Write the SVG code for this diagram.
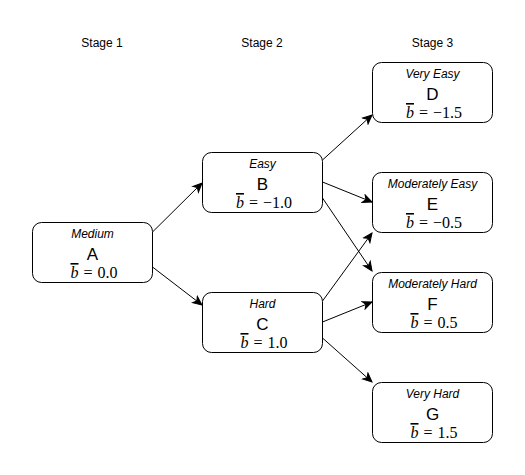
<svg xmlns="http://www.w3.org/2000/svg" width="525" height="475" viewBox="0 0 525 475">
<style>
.box{fill:#fff;stroke:#000;stroke-width:1}
.lbl{font-family:"Liberation Sans",Arial,sans-serif;font-size:12px;font-style:italic;text-anchor:middle;fill:#000}
.ltr{font-family:"Liberation Sans",Arial,sans-serif;font-size:17px;text-anchor:middle;fill:#000}
.math{font-family:"Liberation Serif","Times New Roman",serif;font-size:16px;text-anchor:middle;fill:#000;word-spacing:1px}
.bb{font-style:italic;text-decoration:overline}
.stage{font-family:"Liberation Sans",Arial,sans-serif;font-size:12px;text-anchor:middle;fill:#000}
.edge{stroke:#000;stroke-width:1;fill:none;marker-end:url(#arr)}
</style>
<defs>
<marker id="arr" markerUnits="userSpaceOnUse" markerWidth="12" markerHeight="12" refX="10" refY="5" orient="auto" viewBox="0 0 12 10">
<path d="M1,1 L10,5 L1,9 L3.5,5 Z" fill="#000" stroke="#000" stroke-width="1"/>
</marker>
</defs>
<rect width="525" height="475" fill="#fff"/>
<g id="stages">
<text class="stage" x="102" y="47">Stage 1</text>
<text class="stage" x="262" y="47">Stage 2</text>
<text class="stage" x="432.5" y="47">Stage 3</text>
</g>
<g id="connectors">
<line class="edge" x1="152.5" y1="232" x2="202" y2="183"/>
<line class="edge" x1="152.5" y1="267" x2="202" y2="305"/>
<line class="edge" x1="322.5" y1="160" x2="372" y2="115"/>
<line class="edge" x1="322.5" y1="182" x2="372" y2="202"/>
<line class="edge" x1="322.5" y1="198" x2="372" y2="271"/>
<line class="edge" x1="322.5" y1="301" x2="372" y2="233"/>
<line class="edge" x1="322.5" y1="322" x2="372" y2="302"/>
<line class="edge" x1="322.5" y1="338" x2="372" y2="382"/>
</g>
<g id="A">
<rect class="box" x="32.5" y="222.5" width="120" height="60" rx="9"/>
<text class="lbl" x="92.5" y="238">Medium</text>
<text class="ltr" x="92.5" y="260">A</text>
<text class="math" x="94" y="278"><tspan class="bb">b</tspan> = 0.0</text>
</g>
<g id="B">
<rect class="box" x="202.5" y="152.5" width="120" height="60" rx="9"/>
<text class="lbl" x="262.5" y="168">Easy</text>
<text class="ltr" x="262.5" y="190">B</text>
<text class="math" x="264" y="208"><tspan class="bb">b</tspan> = −1.0</text>
</g>
<g id="C">
<rect class="box" x="202.5" y="292.5" width="120" height="60" rx="9"/>
<text class="lbl" x="262.5" y="308">Hard</text>
<text class="ltr" x="262.5" y="330">C</text>
<text class="math" x="264" y="348"><tspan class="bb">b</tspan> = 1.0</text>
</g>
<g id="D">
<rect class="box" x="372.5" y="62.5" width="120" height="60" rx="9"/>
<text class="lbl" x="432.5" y="78">Very Easy</text>
<text class="ltr" x="432.5" y="100">D</text>
<text class="math" x="434" y="118"><tspan class="bb">b</tspan> = −1.5</text>
</g>
<g id="E">
<rect class="box" x="372.5" y="172.5" width="120" height="60" rx="9"/>
<text class="lbl" x="432.5" y="188">Moderately Easy</text>
<text class="ltr" x="432.5" y="210">E</text>
<text class="math" x="434" y="228"><tspan class="bb">b</tspan> = −0.5</text>
</g>
<g id="F">
<rect class="box" x="372.5" y="272.5" width="120" height="60" rx="9"/>
<text class="lbl" x="432.5" y="288">Moderately Hard</text>
<text class="ltr" x="432.5" y="310">F</text>
<text class="math" x="434" y="328"><tspan class="bb">b</tspan> = 0.5</text>
</g>
<g id="G">
<rect class="box" x="372.5" y="382.5" width="120" height="60" rx="9"/>
<text class="lbl" x="432.5" y="398">Very Hard</text>
<text class="ltr" x="432.5" y="420">G</text>
<text class="math" x="434" y="438"><tspan class="bb">b</tspan> = 1.5</text>
</g>
</svg>
